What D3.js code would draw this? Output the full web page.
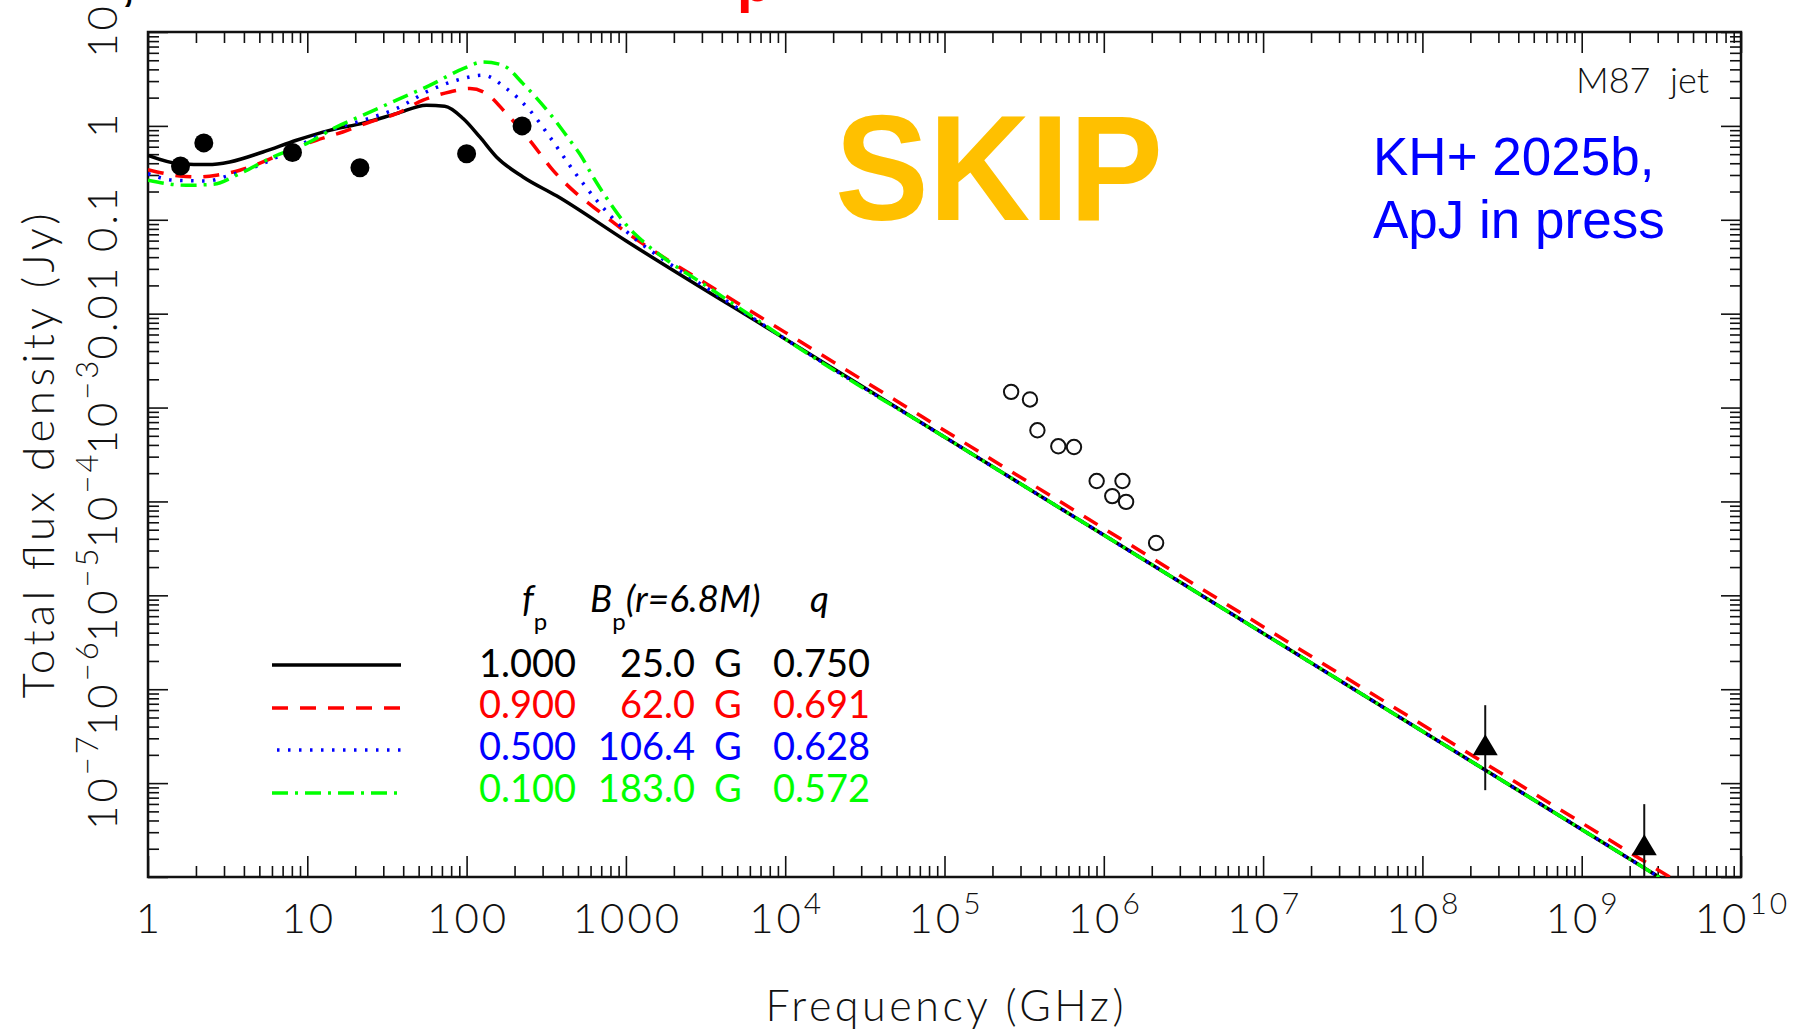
<!DOCTYPE html>
<html>
<head>
<meta charset="utf-8">
<script src="https://cdn.jsdelivr.net/npm/d3@7"></script>
<style>
  html, body { margin: 0; padding: 0; background: #fff; }
  svg { display: block; }
  .ticks path.domain { display: none; }
  .ticks line { stroke: #111; stroke-width: 1.6; }
  .thin { font-family: Lato, "Open Sans", sans-serif; font-weight: 300; fill: #111; }
  .leg { font-family: Lato, "Open Sans", sans-serif; font-weight: 400; }
</style>
</head>
<body>
<svg id="chart" width="1802" height="1032"></svg>
<script>
// model curves, [frequency GHz, flux Jy]
const curveFp1000 = [[1, 0.486], [1.58, 0.396], [2.38, 0.387], [3.26, 0.413], [5.27, 0.527], [8.55, 0.703],
  [13.8, 0.897], [22.4, 1.07], [36.3, 1.35], [56.0, 1.66], [72.9, 1.62], [95.1, 1.20], [121, 0.762],
  [154, 0.467], [226, 0.286], [367, 0.180], [1000, 0.0598], [1e4, 5.38e-3], [1e5, 4.85e-4],
  [1e6, 4.38e-5], [1e7, 3.94e-6], [1e8, 3.56e-7], [1e9, 3.21e-8], [1e10, 2.90e-9]];
const curveFp0900 = [[1, 0.342], [1.58, 0.293], [2.01, 0.286], [2.69, 0.298], [3.77, 0.337], [5.27, 0.413],
  [7.76, 0.550], [11.4, 0.703], [16.7, 0.861], [24.7, 1.10], [36.3, 1.35], [53.3, 1.88], [78.3, 2.30],
  [105, 2.50], [133, 2.21], [178, 1.35], [249, 0.703], [349, 0.336], [490, 0.190], [631, 0.135],
  [794, 0.100], [1000, 0.0741], [1585, 0.0437], [3162, 0.0211], [1e4, 6.32e-3], [1e5, 5.70e-4],
  [1e6, 5.15e-5], [1e7, 4.63e-6], [1e8, 4.18e-7], [1e9, 3.77e-8], [1e10, 3.41e-9]];
const curveFp0500 = [[1, 0.310], [1.44, 0.264], [2.33, 0.259], [3.26, 0.298], [5.27, 0.396], [8.55, 0.596],
  [13.8, 0.897], [22.4, 1.15], [36.3, 1.53], [58.7, 2.39], [86.5, 3.06], [127, 3.46], [178, 2.50],
  [249, 1.47], [333, 0.762], [467, 0.336], [631, 0.174], [794, 0.112], [1000, 0.0759], [1259, 0.0550],
  [1778, 0.0363], [3162, 0.0191], [6310, 8.91e-3], [1e4, 5.38e-3], [1e5, 4.85e-4], [1e6, 4.38e-5],
  [1e7, 3.94e-6], [1e8, 3.56e-7], [1e9, 3.21e-8], [1e10, 2.90e-9]];
const curveFp0100 = [[1, 0.264], [1.74, 0.233], [2.56, 0.239], [3.77, 0.310], [6.10, 0.467], [9.89, 0.647],
  [15.2, 0.973], [22.4, 1.30], [36.3, 1.88], [58.7, 2.70], [95.1, 4.07], [127, 4.80], [169, 4.42],
  [226, 2.82], [333, 1.35], [445, 0.703], [514, 0.501], [631, 0.275], [794, 0.151], [1000, 0.0891],
  [1259, 0.0603], [1778, 0.0380], [3162, 0.0200], [6310, 9.12e-3], [1e4, 5.38e-3], [1e5, 4.85e-4],
  [1e6, 4.38e-5], [1e7, 3.94e-6], [1e8, 3.56e-7], [1e9, 3.21e-8], [1e10, 2.90e-9]];

// observed points
const radioNu = [1.6, 2.24, 8.07, 21.4, 100, 223];
const radioS = [0.374, 0.659, 0.52, 0.358, 0.505, 1.0];
const optNu = [2.62e5, 3.44e5, 3.83e5, 5.18e5, 6.50e5, 9.02e5, 1.31e6, 1.13e6, 1.38e6, 2.13e6];
const optS = [1.47e-3, 1.22e-3, 5.73e-4, 3.87e-4, 3.80e-4, 1.65e-4, 1.65e-4, 1.14e-4, 9.89e-5, 3.61e-5];
const xrayNu = [2.48e8, 2.47e9];
const xrayS = [2.53e-7, 2.18e-8];
const xrayLo = [8.41e-8, 7.98e-9];
const xrayHi = [6.76e-7, 5.97e-8];

// legend table
const legendFp = ["1.000", "0.900", "0.500", "0.100"];
const legendB = ["25.0", "62.0", "106.4", "183.0"];
const legendQ = ["0.750", "0.691", "0.628", "0.572"];
const seriesColor = ["#000000", "#ff0000", "#0000ff", "#00ff00"];
const seriesDash = [null, "16,12", "2.5,8.5", "16,7,3,7"];

// tick labels: [mantissa, exponent]
const xTickLabels = [["1", ""], ["10", ""], ["100", ""], ["1000", ""], ["10", "4"], ["10", "5"],
  ["10", "6"], ["10", "7"], ["10", "8"], ["10", "9"], ["10", "10"]];
const yTickLabels = [["10", ""], ["1", ""], ["0.1", ""], ["0.01", ""], ["10", "\u22123"], ["10", "\u22124"],
  ["10", "\u22125"], ["10", "\u22126"], ["10", "\u22127"]];

const svg = d3.select("#chart");
const L = 148, R = 1741, T = 32, B = 877;

const x = d3.scaleLog().domain([1, 1e10]).range([L, R]);
const y = d3.scaleLog().domain([1e-8, 10]).range([B, T]);

const xMajor = d3.range(0, 11).map(e => Math.pow(10, e));
const yMajor = d3.range(-8, 2).map(e => Math.pow(10, e));
function minors(majors) {
  let out = [];
  majors.slice(0, -1).forEach(m => { for (let k = 2; k <= 9; k++) out.push(m * k); });
  return out;
}
const xMinor = minors(xMajor), yMinor = minors(yMajor);

// ticks on all four sides, pointing in
function ticks(axisFn, scale, vals, len, tx, ty) {
  svg.append("g").attr("class", "ticks").attr("transform", `translate(${tx},${ty})`)
    .call(axisFn(scale).tickValues(vals).tickSize(-len).tickFormat(""));
}
ticks(d3.axisBottom, x, xMajor, 21, 0, B);
ticks(d3.axisBottom, x, xMinor, 11, 0, B);
ticks(d3.axisTop, x, xMajor, 21, 0, T);
ticks(d3.axisTop, x, xMinor, 11, 0, T);
ticks(d3.axisLeft, y, yMajor, 20, L, 0);
ticks(d3.axisLeft, y, yMinor, 11, L, 0);
ticks(d3.axisRight, y, yMajor, 20, R, 0);
ticks(d3.axisRight, y, yMinor, 11, R, 0);

svg.append("rect").attr("x", L).attr("y", T).attr("width", R - L).attr("height", B - T)
  .attr("fill", "none").attr("stroke", "#111").attr("stroke-width", 2.5);

// tick labels
xMajor.forEach((v, i) => {
  const t = svg.append("text").attr("class", "thin").attr("x", x(v) + 1.5).attr("y", 933)
    .attr("text-anchor", "middle").style("font-size", "42px").style("letter-spacing", "3px");
  t.append("tspan").text(xTickLabels[i][0]);
  if (xTickLabels[i][1]) t.append("tspan").attr("dy", -19).style("font-size", "30px").text(xTickLabels[i][1]);
});
yMajor.slice(1).reverse().forEach((v, i) => {
  const t = svg.append("text").attr("class", "thin")
    .attr("transform", `translate(117,${y(v) - 1.5}) rotate(-90)`)
    .attr("text-anchor", "middle").style("font-size", "42px").style("letter-spacing", "3px");
  t.append("tspan").text(yTickLabels[i][0]);
  if (yTickLabels[i][1]) t.append("tspan").attr("dy", -19).style("font-size", "31px").text(yTickLabels[i][1]);
});

svg.append("text").attr("class", "thin").attr("x", (L + R) / 2).attr("y", 1021)
  .attr("text-anchor", "middle").style("font-size", "43px")
  .attr("textLength", 358).attr("lengthAdjust", "spacing").text("Frequency (GHz)");
svg.append("text").attr("class", "thin").attr("transform", "translate(54,456) rotate(-90)")
  .attr("text-anchor", "middle").style("font-size", "44px")
  .attr("textLength", 485).attr("lengthAdjust", "spacing").text("Total flux density (Jy)");

// model curves
svg.append("clipPath").attr("id", "plotclip").append("rect")
  .attr("x", L).attr("y", T).attr("width", R - L).attr("height", B - T);
const line = d3.line().x(d => x(d[0])).y(d => y(d[1])).curve(d3.curveMonotoneX);
const curves = [curveFp1000, curveFp0900, curveFp0500, curveFp0100];
const gc = svg.append("g").attr("clip-path", "url(#plotclip)");
curves.forEach((c, i) => {
  gc.append("path").attr("d", line(c)).attr("fill", "none")
    .attr("stroke", seriesColor[i]).attr("stroke-width", 3.5)
    .attr("stroke-dasharray", seriesDash[i]);
});

// data
const gd = svg.append("g").attr("clip-path", "url(#plotclip)");
gd.selectAll("circle.radio").data(radioNu).join("circle").attr("class", "radio")
  .attr("cx", d => x(d)).attr("cy", (d, i) => y(radioS[i])).attr("r", 9.5).attr("fill", "#000");
gd.selectAll("circle.opt").data(optNu).join("circle").attr("class", "opt")
  .attr("cx", d => x(d)).attr("cy", (d, i) => y(optS[i])).attr("r", 7.2)
  .attr("fill", "none").attr("stroke", "#111").attr("stroke-width", 2);
gd.selectAll("line.err").data(xrayNu).join("line").attr("class", "err")
  .attr("x1", d => x(d)).attr("x2", d => x(d))
  .attr("y1", (d, i) => y(xrayHi[i])).attr("y2", (d, i) => y(xrayLo[i]))
  .attr("stroke", "#111").attr("stroke-width", 2);
gd.selectAll("path.tri").data(xrayNu).join("path").attr("class", "tri")
  .attr("transform", (d, i) => `translate(${x(d)},${y(xrayS[i])})`)
  .attr("d", "M0,-11 L12.5,10 L-12.5,10 Z").attr("fill", "#000");

// legend
const rowY = [677, 718, 760, 802];
const sampleY = [665, 708, 750, 793];
legendFp.forEach((v, i) => {
  svg.append("line").attr("x1", i === 2 ? 277 : 272).attr("x2", 401)
    .attr("y1", sampleY[i]).attr("y2", sampleY[i])
    .attr("stroke", seriesColor[i]).attr("stroke-width", 3.5)
    .attr("stroke-dasharray", seriesDash[i]);
  const g = svg.append("g").attr("class", "leg").style("font-size", "38px").attr("fill", seriesColor[i]);
  g.append("text").attr("x", 479).attr("y", rowY[i]).text(v);
  g.append("text").attr("x", 695).attr("y", rowY[i]).attr("text-anchor", "end").text(legendB[i]);
  g.append("text").attr("x", 714).attr("y", rowY[i]).text("G");
  g.append("text").attr("x", 773).attr("y", rowY[i]).text(legendQ[i]);
});
const hdr = svg.append("g").attr("class", "leg").attr("fill", "#000");
const h1 = hdr.append("text").attr("x", 522).attr("y", 612).style("font-size", "37px");
h1.append("tspan").style("font-style", "italic").text("f");
h1.append("tspan").attr("dy", 18).style("font-size", "24px").text("p");
const h2 = hdr.append("text").attr("x", 590).attr("y", 612).style("font-size", "37px");
h2.append("tspan").style("font-style", "italic").text("B");
h2.append("tspan").attr("dy", 18).style("font-size", "24px").text("p");
h2.append("tspan").attr("dy", -18).style("font-style", "italic").text("(r=6.8M)");
hdr.append("text").attr("x", 810).attr("y", 612).style("font-size", "37px")
  .style("font-style", "italic").text("q");

// annotations
svg.append("text").attr("class", "thin").attr("x", 1709).attr("y", 93).attr("text-anchor", "end")
  .style("font-size", "36px").attr("xml:space", "preserve").text("M87  jet");
svg.append("text").attr("x", 835).attr("y", 220).attr("fill", "#ffc000")
  .style("font-family", "'Liberation Sans', Arial, sans-serif").style("font-weight", "bold")
  .style("font-size", "150px").attr("textLength", 328).attr("lengthAdjust", "spacingAndGlyphs").text("SKIP");
const note = svg.append("text").attr("fill", "#0000ff")
  .style("font-family", "'Liberation Sans', Arial, sans-serif").style("font-size", "53px");
note.append("tspan").attr("x", 1373).attr("y", 175).text("KH+ 2025b,");
note.append("tspan").attr("x", 1373).attr("y", 238).text("ApJ in press");

// remnants of a title cut off above the picture
svg.append("text").attr("x", 737).attr("y", 1).attr("fill", "#ff0000")
  .style("font-family", "'Liberation Sans', Arial, sans-serif").style("font-weight", "bold")
  .style("font-size", "56px").text("p");
svg.append("text").attr("x", 122).attr("y", 0).attr("fill", "#000")
  .style("font-family", "'Liberation Sans', Arial, sans-serif").style("font-weight", "bold")
  .style("font-size", "44px").text(",");
</script>
</body>
</html>
